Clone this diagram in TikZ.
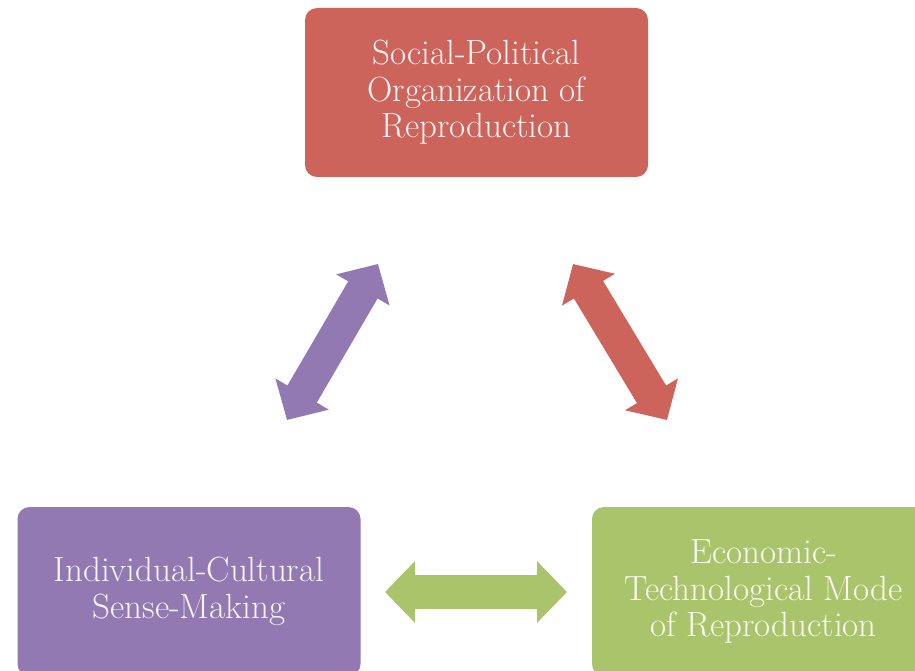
\documentclass[tikz,border=0pt]{standalone}
\usetikzlibrary{arrows.meta}
\definecolor{spRed}{RGB}{205,100,92}
\definecolor{icPurple}{RGB}{146,121,178}
\definecolor{etGreen}{RGB}{170,196,108}
\tikzset{
  realmbox/.style={rectangle, rounded corners=12pt, minimum width=343pt,
    minimum height=169pt, inner sep=0pt, align=center, fill=#1,
    text=white!92!#1, font=\fontsize{35}{36.5}\selectfont},
  blockarrow/.style={draw=#1, line width=34pt,
    {Triangle[length=30pt,width=60pt]}-{Triangle[length=30pt,width=60pt]}},
}
\begin{document}
\begin{tikzpicture}[x=1pt, y=-1pt]
% page frame, 915 x 671
\clip (0,0) rectangle (915,671);
\fill[white] (0,0) rectangle (915,671);
% the three realms
\node[realmbox=spRed] (social) at (476.5,92.5) {Social-Political\\Organization of\\Reproduction};
\node[realmbox=icPurple] (indiv) at (189,591.5) {Individual-Cultural\\Sense-Making};
\node[realmbox=etGreen] (econ) at (763.5,591.5) {Economic-\\Technological Mode\\of Reproduction};
% arrow ends
\coordinate (icLow) at (287,420);
\coordinate (icHigh) at (378,264);
\coordinate (spHigh) at (573,264);
\coordinate (spLow) at (667,420);
\coordinate (etLeft) at (385,592);
\coordinate (etRight) at (567,592);
% two-way links
\draw[blockarrow=icPurple] (icLow) -- (icHigh);
\draw[blockarrow=spRed] (spHigh) -- (spLow);
\draw[blockarrow=etGreen] (etLeft) -- (etRight);
\end{tikzpicture}
\end{document}
